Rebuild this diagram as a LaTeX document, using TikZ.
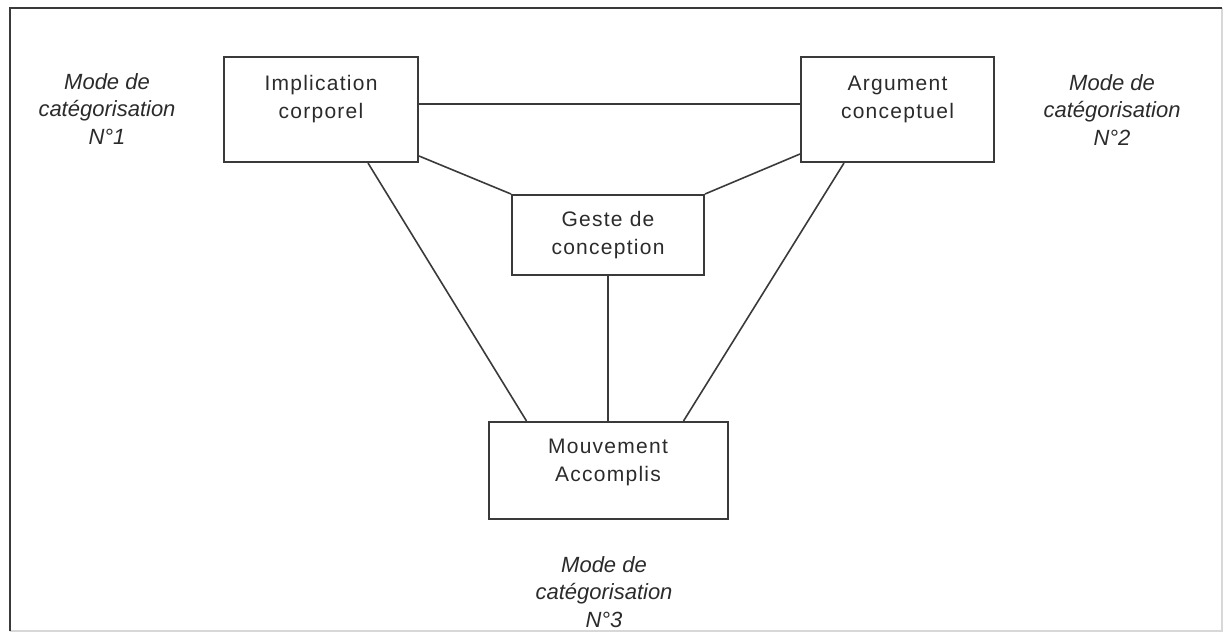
\documentclass[tikz,border=0pt]{standalone}
\usepackage{fontspec}
\setmainfont{Liberation Sans}
\newfontfamily\boxfont[LetterSpace=6]{Liberation Sans}
\usetikzlibrary{positioning}
\definecolor{linegray}{HTML}{3A3A3A}
\definecolor{txtgray}{HTML}{2B2B2B}
\definecolor{framegray}{HTML}{D8D8D8}

\begin{document}
\begin{tikzpicture}[x=0.5pt, y=-0.5pt, font=\fontsize{10.5}{14}\selectfont, text=txtgray]
\tikzstyle{box}=[draw=linegray, line width=1pt, align=center, inner sep=0pt, font=\boxfont\fontsize{10.5}{14}\selectfont]
\tikzstyle{mode}=[align=center, inner sep=0pt, font=\itshape\fontsize{11}{13.75}\selectfont]
\tikzstyle{link}=[draw=linegray, line width=0.8pt]
\useasboundingbox (0,0) rectangle (1224,633);
% cadre
\draw[framegray, line width=0.8pt] (1222,8) -- (1222,631) -- (10,631);
\draw[linegray, line width=1pt] (10,631) -- (10,8) -- (1222,8);
% les quatre boites
\node[box, minimum width=97pt, minimum height=52.5pt, text depth=12.5pt] (impl) at (321,109.5) {Implication\\corporel};
\node[box, minimum width=96.5pt, minimum height=52.5pt, text depth=12.5pt, right=190.5pt of impl] (arg) {Argument\\conceptuel};
\node[box, minimum width=96pt, minimum height=40pt] (geste) at (608,235) {Geste de\\conception};
\node[box, minimum width=119.5pt, minimum height=48.5pt, text depth=9.8pt, below=72.5pt of geste] (mouv) {Mouvement\\Accomplis};
% modes de categorisation
\node[mode] (mode1) at (107,109) {Mode de\\catégorisation\\N°1};
\node[mode] (mode2) at (1112,110) {Mode de\\catégorisation\\N°2};
\node[mode] (mode3) at (604,592) {Mode de\\catégorisation\\N°3};
% liens
\draw[link] ([yshift=2.75pt]impl.east) -- ([yshift=2.75pt]arg.west);
\draw[link] ([yshift=-23.25pt]impl.east) -- (geste.north west);
\draw[link] ([yshift=-22.25pt]arg.west) -- (geste.north east);
\draw[link] ([xshift=23.5pt]impl.south) -- ([xshift=-40.75pt]mouv.north);
\draw[link] ([xshift=-26.75pt]arg.south) -- ([xshift=37.75pt]mouv.north);
\draw[link] (geste.south) -- (geste.south |- mouv.north);
\end{tikzpicture}
\end{document}
